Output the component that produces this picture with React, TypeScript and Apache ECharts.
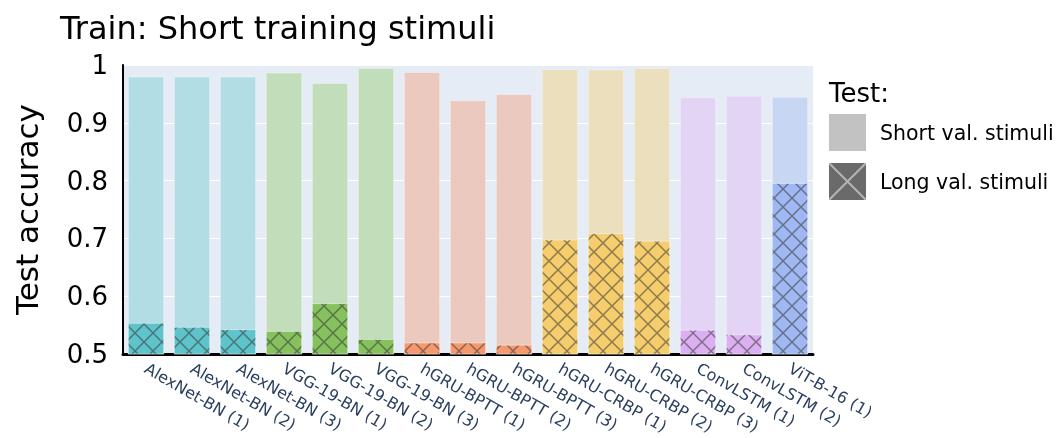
import React, { useEffect, useRef } from "react";
import * as echarts from "echarts";

const categories = [
  "AlexNet-BN (1)", "AlexNet-BN (2)", "AlexNet-BN (3)",
  "VGG-19-BN (1)", "VGG-19-BN (2)", "VGG-19-BN (3)",
  "hGRU-BPTT (1)", "hGRU-BPTT (2)", "hGRU-BPTT (3)",
  "hGRU-CRBP (1)", "hGRU-CRBP (2)", "hGRU-CRBP (3)",
  "ConvLSTM (1)", "ConvLSTM (2)", "ViT-B-16 (1)",
];
const shortValues = [0.980, 0.980, 0.980, 0.987, 0.969, 0.995, 0.988, 0.939, 0.950, 0.993, 0.992, 0.995, 0.944, 0.947, 0.945];
const longValues = [0.554, 0.547, 0.543, 0.540, 0.588, 0.526, 0.520, 0.520, 0.516, 0.698, 0.709, 0.696, 0.542, 0.534, 0.796];
const shortColors = ["#b3dde5", "#b3dde5", "#b3dde5", "#c2ddb9", "#c2ddb9", "#c2ddb9", "#ecc9bf", "#ecc9bf", "#ecc9bf", "#ebdfbe", "#ebdfbe", "#ebdfbe", "#e3d3f4", "#e3d3f4", "#c7d7f3"];
const longColors = ["#5fc3cb", "#5fc3cb", "#5fc3cb", "#86c15e", "#86c15e", "#86c15e", "#f5986d", "#f5986d", "#f5986d", "#f6cd6d", "#f6cd6d", "#f6cd6d", "#dcaff3", "#dcaff3", "#9fb8f3"];
const yTicks = [0.5, 0.6, 0.7, 0.8, 0.9, 1];
const seriesNames = ["Short val. stimuli", "Long val. stimuli"];

function makePattern(bg: string, line: string, w: number, h: number, lw: number) {
  const c = document.createElement("canvas");
  c.width = w;
  c.height = h;
  const ctx = c.getContext("2d")!;
  ctx.fillStyle = bg;
  ctx.fillRect(0, 0, w, h);
  ctx.strokeStyle = line;
  ctx.lineWidth = lw;
  ctx.beginPath();
  ctx.moveTo(0, 0);
  ctx.lineTo(w, h);
  ctx.moveTo(w, 0);
  ctx.lineTo(0, h);
  ctx.stroke();
  return { image: c, repeat: "repeat", imageWidth: w, imageHeight: h };
}

export default function App() {
  const ref = useRef<HTMLDivElement>(null);
  useEffect(() => {
    if (!ref.current) return;
    const chart = echarts.init(ref.current, null, { renderer: "svg" });
    const font = "DejaVu Sans";
    const patternCache: Record<string, any> = {};
    const pat = (col: string) => {
      if (!patternCache[col]) patternCache[col] = makePattern(col, "rgba(55,55,55,0.55)", 18, 18, 1.5);
      return patternCache[col];
    };
    chart.setOption({
      animation: false,
      textStyle: { fontFamily: font },
      title: [
        {
          text: "Train: Short training stimuli",
          left: 55,
          top: 7,
          textStyle: { fontSize: 32, fontWeight: "normal", color: "#000", fontFamily: font },
        },
        {
          text: "Test:",
          left: 824,
          top: 75,
          textStyle: { fontSize: 26, fontWeight: "normal", color: "#000", fontFamily: font },
        },
      ],
      legend: {
        orient: "vertical",
        left: 824,
        top: 109,
        itemWidth: 37,
        itemHeight: 37,
        itemGap: 12,
        selectedMode: false,
        icon: "rect",
        textStyle: { fontSize: 20.5, color: "#000", fontFamily: font, padding: [0, 0, 0, 9] },
        data: [
          { name: seriesNames[0], itemStyle: { color: "#c2c2c2", borderWidth: 0 } },
          { name: seriesNames[1], itemStyle: { color: makePattern("#6a6a6a", "#b4b4b4", 37, 37, 2), borderWidth: 0 } },
        ],
      },
      grid: {
        left: 123,
        right: 248,
        top: 65,
        bottom: 84,
        show: true,
        backgroundColor: "#e5ecf6",
        borderWidth: 0,
      },
      xAxis: {
        type: "category",
        data: categories,
        axisLine: { show: true, lineStyle: { color: "#000", width: 3 } },
        axisTick: { show: false },
        axisLabel: { rotate: -30, fontSize: 16, color: "#2a3f5f", margin: 13, interval: 0 },
      },
      yAxis: {
        type: "value",
        min: yTicks[0],
        max: yTicks[yTicks.length - 1],
        interval: 0.1,
        name: "Test accuracy",
        nameLocation: "middle",
        nameGap: 81,
        nameTextStyle: { fontSize: 31, color: "#000", fontFamily: font },
        axisLine: { show: true, lineStyle: { color: "#000", width: 2 } },
        axisTick: { show: false },
        axisLabel: {
          fontSize: 26,
          color: "#000",
          margin: 15,
          formatter: (v: number) => (Math.abs(v - 1) < 1e-9 ? "1" : v.toFixed(1)),
        },
        splitLine: { show: true, lineStyle: { color: "#ffffff", width: 1 } },
      },
      series: [
        {
          name: seriesNames[0],
          type: "bar",
          barWidth: "79%",
          itemStyle: { color: "#c2c2c2" },
          data: shortValues.map((v, i) => ({
            value: v,
            itemStyle: { color: shortColors[i], borderColor: "rgba(255,255,255,0.35)", borderWidth: 1 },
          })),
          z: 2,
        },
        {
          name: seriesNames[1],
          type: "bar",
          barWidth: "79%",
          barGap: "-100%",
          itemStyle: { color: "#6a6a6a" },
          data: longValues.map((v, i) => ({
            value: v,
            itemStyle: { color: pat(longColors[i]), borderColor: "rgba(255,255,255,0.45)", borderWidth: 1 },
          })),
          z: 3,
        },
      ],
    });
    return () => chart.dispose();
  }, []);
  return (
    <div
      ref={ref}
      style={{ position: "fixed", left: 0, top: 0, width: 1061, height: 438 }}
    />
  );
}
